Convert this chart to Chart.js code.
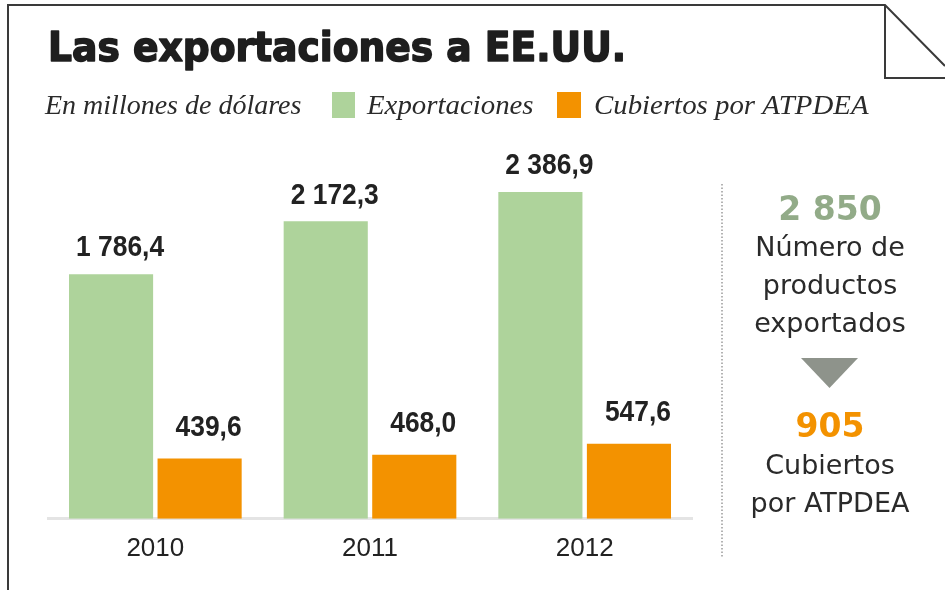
<!DOCTYPE html>
<html>
<head>
<meta charset="utf-8">
<script src="https://cdn.jsdelivr.net/npm/chart.js@4/dist/chart.umd.min.js"></script>
<style>
html,body{margin:0;padding:0;background:#fff;}
#c{display:block;}
</style>
</head>
<body>
<canvas id="c" width="945" height="590"></canvas>
<script>
// ---- data ----
const categories = ['2010', '2011', '2012'];
const exportaciones = [1786.4, 2172.3, 2386.9];
const cubiertos = [439.6, 468.0, 547.6];
const seriesNames = ['Exportaciones', 'Cubiertos por ATPDEA'];
const titleText = 'Las exportaciones a EE.UU.';
const unitText = 'En millones de dólares';
const productosTotal = 2850;
const productosCubiertos = 905;
const totalLabel = ['Número de', 'productos', 'exportados'];
const cubiertosLabel = ['Cubiertos', 'por ATPDEA'];

const GREEN = '#aed39b';
const ORANGE = '#f39200';

function groupDigits(intStr) {
  return intStr.replace(/\B(?=(\d{3})+(?!\d))/g, ' ');
}
function fmt1(v) {
  const [i, d] = v.toFixed(1).split('.');
  return groupDigits(i) + ',' + d;
}
function fmt0(v) { return groupDigits(String(Math.round(v))); }

function txt(ctx, s, x, y, font, color, align, sx, stroke) {
  ctx.save();
  ctx.font = font;
  ctx.fillStyle = color;
  ctx.textAlign = align || 'left';
  ctx.textBaseline = 'middle';
  ctx.translate(x, y);
  ctx.scale(sx || 1, 1);
  ctx.fillText(s, 0, 0);
  if (stroke) {
    ctx.strokeStyle = color;
    ctx.lineWidth = stroke;
    ctx.lineJoin = 'round';
    ctx.strokeText(s, 0, 0);
  }
  ctx.restore();
}

const decor = {
  id: 'decor',
  afterDraw(chart) {
    const ctx = chart.ctx;
    ctx.save();
    // frame with folded corner
    ctx.strokeStyle = '#3a3a3a';
    ctx.lineWidth = 2;
    ctx.beginPath();
    ctx.moveTo(8, 590); ctx.lineTo(8, 5); ctx.lineTo(885, 5);
    ctx.lineTo(945, 66);
    ctx.moveTo(885, 5); ctx.lineTo(885, 78); ctx.lineTo(945, 78);
    ctx.stroke();

    // title
    const tf = 'bold 40px "DejaVu Sans"';
    ctx.font = tf;
    const tw = ctx.measureText(titleText).width;
    txt(ctx, titleText, 48, 51, tf, '#1e1e1e', 'left', 578 / tw, 1.6);

    // subtitle + legend
    const it = 'italic 28px "Liberation Serif"';
    txt(ctx, unitText, 45, 107, it, '#2a2a2a', 'left', 1.0);
    const ds = chart.data.datasets;
    ctx.fillStyle = ds[0].backgroundColor;
    ctx.fillRect(332, 92, 23, 26);
    txt(ctx, ds[0].label, 367, 107, it, '#2a2a2a', 'left', 1.03);
    ctx.fillStyle = ds[1].backgroundColor;
    ctx.fillRect(557, 92, 24, 26);
    txt(ctx, ds[1].label, 594, 107, it, '#2a2a2a', 'left', 1.03);

    // value labels
    ds.forEach((d, di) => {
      const meta = chart.getDatasetMeta(di);
      meta.data.forEach((bar, i) => {
        const off = di === 0 ? 26 : 31;
        txt(ctx, fmt1(d.data[i]), bar.x + 9, bar.y - off, 'bold 30px "Liberation Sans"', '#222', 'center', 0.88);
      });
    });

    // dotted separator
    ctx.strokeStyle = '#9a9a9a';
    ctx.lineWidth = 1.5;
    ctx.setLineDash([1.5, 2]);
    ctx.beginPath();
    ctx.moveTo(722, 184); ctx.lineTo(722, 557);
    ctx.stroke();
    ctx.setLineDash([]);

    // right panel
    const cx = 830;
    txt(ctx, fmt0(productosTotal), cx, 211, 'bold 33px "DejaVu Sans"', '#92ab88', 'center');
    const rf = '27px "DejaVu Sans"';
    totalLabel.forEach((s, k) => txt(ctx, s, cx, 249 + k * 38, rf, '#2a2a2a', 'center'));
    ctx.fillStyle = '#8e938b';
    ctx.beginPath();
    ctx.moveTo(801, 358); ctx.lineTo(858, 358); ctx.lineTo(829.5, 388); ctx.closePath();
    ctx.fill();
    txt(ctx, fmt0(productosCubiertos), cx, 428, 'bold 33px "DejaVu Sans"', ORANGE, 'center');
    cubiertosLabel.forEach((s, k) => txt(ctx, s, cx, 467 + k * 38, rf, '#2a2a2a', 'center'));
    ctx.restore();
  }
};

new Chart(document.getElementById('c'), {
  type: 'bar',
  data: {
    labels: categories,
    datasets: [
      { label: seriesNames[0], data: exportaciones, backgroundColor: GREEN },
      { label: seriesNames[1], data: cubiertos, backgroundColor: ORANGE }
    ]
  },
  options: {
    responsive: false,
    devicePixelRatio: 1,
    animation: false,
    datasets: { bar: { categoryPercentage: 0.825, barPercentage: 0.95 } },
    layout: { padding: { left: 48, right: 253, top: 149, bottom: 12 } },
    plugins: { legend: { display: false }, title: { display: false }, tooltip: { enabled: false } },
    scales: {
      x: {
        grid: { display: false, drawTicks: false },
        border: { display: true, color: '#e4e4e4', width: 3 },
        ticks: { color: '#222', font: { family: 'Liberation Sans', size: 26 }, padding: 14 }
      },
      y: { display: false, min: 0, max: 2700 }
    }
  },
  plugins: [decor]
});
</script>
</body>
</html>
